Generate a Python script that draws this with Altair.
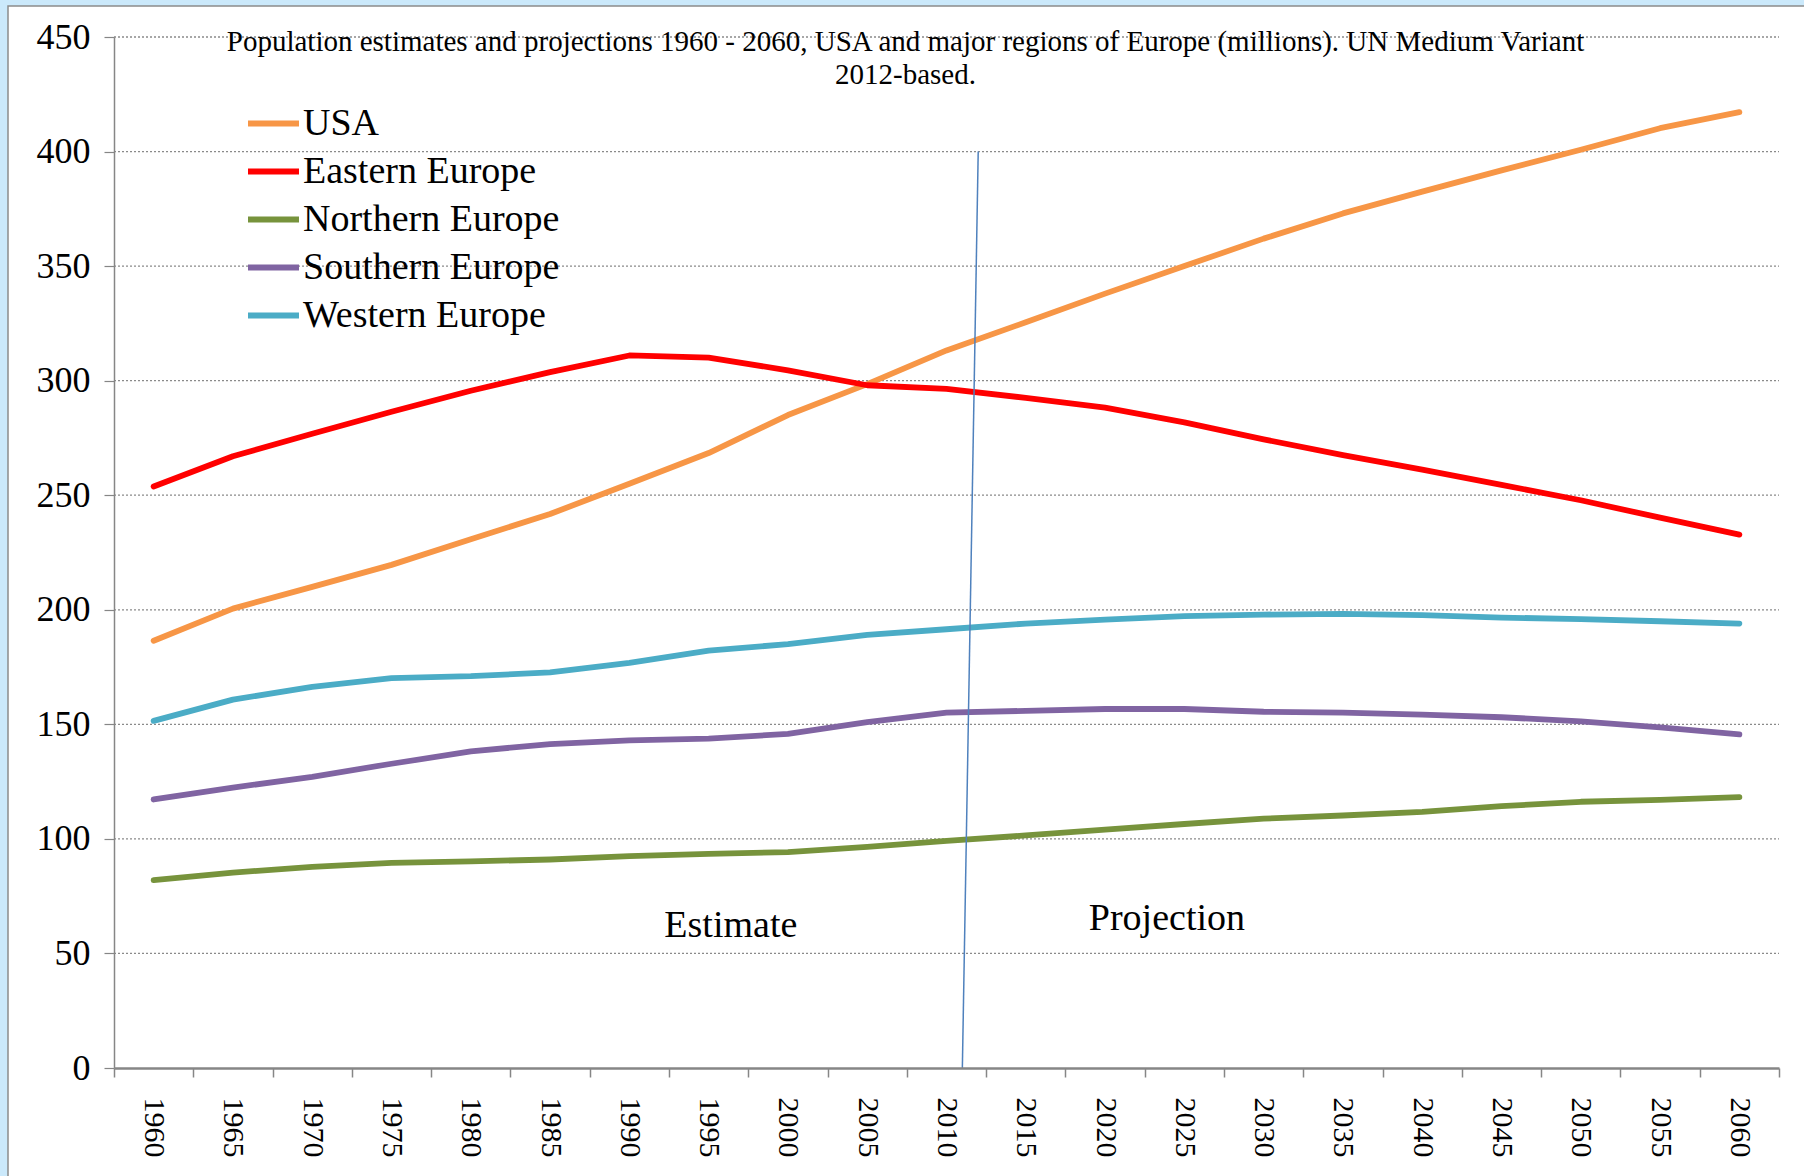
import altair as alt
import pandas as pd

# Population (millions), UN Medium Variant, 2012-based
years = [1960, 1965, 1970, 1975, 1980, 1985, 1990, 1995, 2000, 2005, 2010,
         2015, 2020, 2025, 2030, 2035, 2040, 2045, 2050, 2055, 2060]
usa = [186.5, 200.5, 210.0, 219.6, 230.8, 241.8, 255.0, 268.4, 285.0, 298.5, 313.2,
       325.5, 338.0, 350.0, 362.0, 373.0, 382.5, 391.8, 400.8, 410.2, 417.2]
eastern = [253.8, 267.0, 276.8, 286.4, 295.6, 303.7, 311.0, 310.1, 304.5, 298.0, 296.4,
           292.5, 288.2, 281.8, 274.4, 267.5, 261.2, 254.5, 247.8, 240.2, 232.8]
northern = [82.0, 85.3, 87.8, 89.5, 90.2, 91.0, 92.5, 93.5, 94.2, 96.5, 99.1,
            101.5, 104.0, 106.5, 108.8, 110.2, 111.8, 114.3, 116.2, 117.0, 118.2]
southern = [117.2, 122.4, 127.1, 132.8, 138.2, 141.4, 143.0, 143.8, 145.8, 151.0, 155.1,
            155.9, 156.7, 156.7, 155.5, 155.1, 154.2, 153.1, 151.3, 148.7, 145.6]
western = [151.5, 160.8, 166.3, 170.2, 171.0, 172.7, 176.8, 182.2, 185.0, 189.0, 191.5,
           194.0, 195.7, 197.2, 197.9, 198.2, 197.7, 196.6, 195.9, 195.0, 194.0]

series_names = ["USA", "Eastern Europe", "Northern Europe", "Southern Europe", "Western Europe"]
series_values = [usa, eastern, northern, southern, western]
series_colors = ["#F79646", "#FF0000", "#77933C", "#8064A2", "#4BACC6"]

# y-axis ticks and the dotted gridlines drawn at them
y_ticks = list(range(0, 451, 50))
grid_values = y_ticks[1:]

# boundary between estimates and projections
divider_years = [2011.0, 2012.0]
divider_values = [0, 400]

# period labels
period_labels = ["Estimate", "Projection"]
period_years = [1996.4, 2023.9]
period_values = [61.8, 64.9]

title_lines = [
    "Population estimates and projections 1960 - 2060, USA and major regions of Europe (millions).  UN Medium Variant",
    "2012-based.",
]

W, H = 1665, 1031
SERIF = "Liberation Serif"

rows = []
for name, vals in zip(series_names, series_values):
    for yr, v in zip(years, vals):
        rows.append({"year": str(yr), "region": name, "pop": v})
df = pd.DataFrame(rows)

divider_df = pd.DataFrame({"yr": divider_years, "pop": divider_values})
period_df = pd.DataFrame({"label": period_labels, "yr": period_years, "pop": period_values})
grid_df = pd.DataFrame({"pop": grid_values})

y_scale = alt.Scale(domain=[0, 450], nice=False, zero=True)
x_cont = alt.Scale(domain=[1957.5, 2062.5], nice=False, zero=False)

y_axis = alt.Axis(
    title=None, values=y_ticks, labelFont=SERIF,
    labelFontSize=36, labelColor="black", labelPadding=14,
    domainColor="#868686", domainWidth=1.5, tickColor="#868686",
    tickWidth=1.2, tickSize=10, grid=False, zindex=1,
)

# white panel with a grey edge over the light-blue page
frame = alt.Chart(alt.Data(values=[{}])).mark_rect(
    fill="white", stroke="#8c8c8c", strokeWidth=1.5
).encode(
    x=alt.value(-106), x2=alt.value(W + 200),
    y=alt.value(-31), y2=alt.value(H + 300),
)

grid = alt.Chart(grid_df).mark_rule(
    color="#8a8a8a", strokeDash=[2, 2], strokeWidth=1.3
).encode(
    y=alt.Y("pop:Q", scale=y_scale, axis=y_axis),
    x=alt.value(0), x2=alt.value(W),
)

lines = alt.Chart(df).mark_line(
    strokeWidth=5.8, strokeCap="round", strokeJoin="round"
).encode(
    x=alt.X("year:O", sort=[str(y) for y in years],
            scale=alt.Scale(paddingInner=0, paddingOuter=0),
            axis=alt.Axis(
                title=None, labelAngle=90, labelFont=SERIF, labelFontSize=30,
                labelColor="black", labelPadding=20, tickBand="extent",
                domainColor="#868686", domainWidth=2.5, tickColor="#868686",
                tickWidth=1.5, tickSize=9, grid=False, zindex=1,
            )),
    y=alt.Y("pop:Q", scale=y_scale, axis=y_axis),
    color=alt.Color("region:N",
                    scale=alt.Scale(domain=series_names, range=series_colors),
                    legend=alt.Legend(
                        title=None, orient="none", legendX=131, legendY=58,
                        symbolType="stroke", symbolSize=2600, symbolStrokeWidth=6,
                        labelFont=SERIF, labelFontSize=38, labelColor="black",
                        labelOffset=1, rowPadding=0, labelLimit=0, zindex=1,
                    )),
)

divider = alt.Chart(divider_df).mark_line(color="#4F81BD", strokeWidth=1.5).encode(
    x=alt.X("yr:Q", scale=x_cont, axis=None),
    y=alt.Y("pop:Q", scale=y_scale, axis=y_axis),
)

periods = alt.Chart(period_df).mark_text(
    font=SERIF, fontSize=38, color="black", baseline="middle", align="center"
).encode(
    x=alt.X("yr:Q", scale=x_cont, axis=None),
    y=alt.Y("pop:Q", scale=y_scale, axis=y_axis),
    text="label:N",
)

chart = alt.layer(frame, grid, lines, divider, periods).resolve_scale(
    x="independent", color="independent"
).properties(
    width=W, height=H,
    title=alt.TitleParams(
        text=title_lines, font=SERIF, fontSize=29, fontWeight="normal",
        color="black", anchor="middle", frame="group", dx=-41, dy=108,
        baseline="alphabetic", lineHeight=33, offset=0, zindex=1,
    ),
    background="#cbe9fb",
    padding={"left": 114, "top": 37, "right": 25, "bottom": 108},
    autosize=alt.AutoSizeParams(type="none"),
).configure_view(stroke=None)

chart.save("out.html", embed_options={"renderer": "svg", "actions": False})
